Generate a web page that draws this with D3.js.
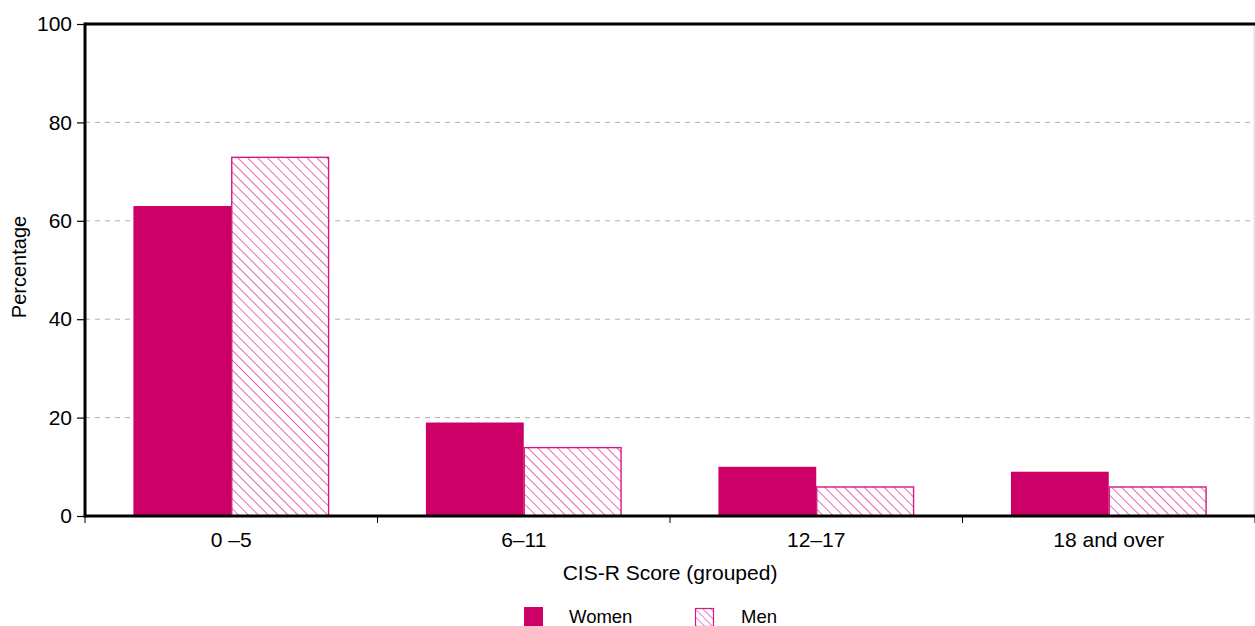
<!DOCTYPE html>
<html><head><meta charset="utf-8">
<script src="https://cdn.jsdelivr.net/npm/d3@7"></script>
<style>body{margin:0;background:#fff}svg{display:block;font-family:"Liberation Sans",Arial,sans-serif}</style>
</head><body><svg id="c" width="1255" height="626"></svg>
<script>
const categories = ["0 \u20135", "6\u201311", "12\u201317", "18 and over"];
const women = [63, 19, 10, 9];
const men = [73, 14, 6, 6];
const yTicks = [0, 20, 40, 60, 80, 100];
const seriesNames = ["Women", "Men"];

const svg = d3.select("#c");
const L = 85, R = 1255, T = 24, B = 516;
const x = d3.scaleBand().domain(categories).range([L, R]).paddingInner(0).paddingOuter(0);
const y = d3.scaleLinear().domain([0, 100]).range([B, T]);
const inner = d3.scaleBand().domain(seriesNames).range([0, x.bandwidth()]).paddingInner(0).paddingOuter(0.495);
const pink = "#cc0066", hatch = "#e2379a";

const defs = svg.append("defs");
const pat = defs.append("pattern").attr("id", "hatch").attr("patternUnits", "userSpaceOnUse")
  .attr("width", 7).attr("height", 7).attr("patternTransform", "rotate(-45)");
pat.append("rect").attr("width", 7).attr("height", 7).attr("fill", "#fff");
pat.append("line").attr("x1", 0).attr("y1", 0).attr("x2", 0).attr("y2", 7).attr("stroke", hatch).attr("stroke-width", 1.5);
const pat2 = defs.append("pattern").attr("id", "hatch2").attr("patternUnits", "userSpaceOnUse")
  .attr("width", 5.5).attr("height", 5.5).attr("patternTransform", "rotate(-45)");
pat2.append("rect").attr("width", 5.5).attr("height", 5.5).attr("fill", "#fff");
pat2.append("line").attr("x1", 0).attr("y1", 0).attr("x2", 0).attr("y2", 5.5).attr("stroke", hatch).attr("stroke-width", 1.2);

// gridlines
svg.append("g").selectAll("line").data(yTicks.filter(d => d > 0 && d < 100)).join("line")
  .attr("x1", L).attr("x2", R).attr("y1", d => y(d)).attr("y2", d => y(d))
  .attr("stroke", "#b0b0b0").attr("stroke-dasharray", "5,5").attr("stroke-width", 1);

// right border
svg.append("line").attr("x1", R - 1).attr("x2", R - 1).attr("y1", T).attr("y2", B).attr("stroke", "#d8d8d8");

// bars
const g = svg.append("g");
categories.forEach((c, i) => {
  g.append("rect").attr("x", x(c) + inner("Women")).attr("width", inner.bandwidth())
    .attr("y", y(women[i])).attr("height", y(0) - y(women[i])).attr("fill", pink);
  g.append("rect").attr("x", x(c) + inner("Men") + 0.5).attr("width", inner.bandwidth() - 1)
    .attr("y", y(men[i]) + 0.5).attr("height", y(0) - y(men[i]) - 0.5)
    .attr("fill", "url(#hatch)").attr("stroke", "#d41a82").attr("stroke-width", 1.4);
});

// axes
const yAxis = svg.append("g").attr("transform", `translate(${L},0)`)
  .call(d3.axisLeft(y).tickValues(yTicks).tickSize(8).tickPadding(5).tickSizeOuter(0));
yAxis.select(".domain").remove();
yAxis.selectAll("text").attr("font-size", 21).attr("fill", "#000");
yAxis.selectAll(".tick line").attr("stroke", "#000").attr("stroke-width", 1.2);

const boundaries = categories.map(c => x(c)).concat([R]);
svg.append("g").selectAll("line").data(boundaries).join("line")
  .attr("x1", d => d).attr("x2", d => d).attr("y1", B).attr("y2", B + 7).attr("stroke", "#000");
svg.append("g").selectAll("text").data(categories).join("text")
  .attr("x", d => x(d) + x.bandwidth() / 2).attr("y", 547).attr("text-anchor", "middle")
  .attr("font-size", 21).text(d => d);

svg.append("line").attr("x1", L).attr("x2", R).attr("y1", T).attr("y2", T).attr("stroke", "#000").attr("stroke-width", 3);
svg.append("line").attr("x1", L).attr("x2", R).attr("y1", B).attr("y2", B).attr("stroke", "#000").attr("stroke-width", 3);
svg.append("line").attr("x1", L).attr("x2", L).attr("y1", T - 1.5).attr("y2", B + 1.5).attr("stroke", "#000").attr("stroke-width", 3);

// labels
svg.append("text").attr("x", (L + R) / 2).attr("y", 580).attr("text-anchor", "middle").attr("font-size", 21).text("CIS-R Score (grouped)");
svg.append("text").attr("transform", `translate(26,267) rotate(-90)`).attr("text-anchor", "middle").attr("font-size", 20).text("Percentage");

// legend
const leg = svg.append("g");
leg.append("rect").attr("x", 524).attr("y", 607).attr("width", 19).attr("height", 19).attr("fill", pink);
leg.append("text").attr("x", 569).attr("y", 623).attr("font-size", 18.5).text(seriesNames[0]);
leg.append("rect").attr("x", 695.5).attr("y", 608.5).attr("width", 18).attr("height", 18).attr("fill", "url(#hatch2)").attr("stroke", "#d41a82").attr("stroke-width", 1.2);
leg.append("text").attr("x", 741).attr("y", 623).attr("font-size", 18.5).text(seriesNames[1]);
</script></body></html>
